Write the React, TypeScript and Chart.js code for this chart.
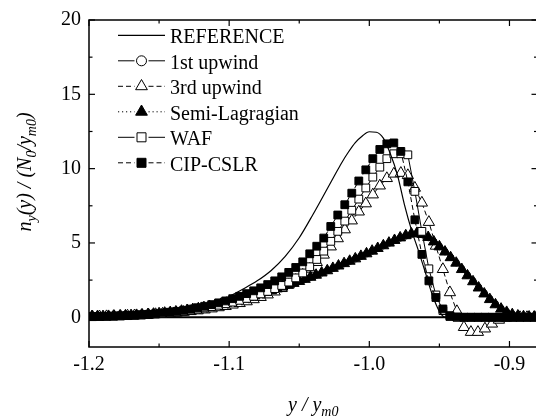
import React, { useEffect, useRef } from 'react';
import { Chart, registerables } from 'chart.js';

Chart.register(...registerables);

// ---------- data ----------
// grid of the square / open-triangle series
const X = [
  -1.1975, -1.1925, -1.1875, -1.1825, -1.1775, -1.1725, -1.1675, -1.1625, -1.1575, -1.1525,
  -1.1475, -1.1425, -1.1375, -1.1325, -1.1275, -1.1225, -1.1175, -1.1125, -1.1075, -1.1025,
  -1.0975, -1.0925, -1.0875, -1.0825, -1.0775, -1.0725, -1.0675, -1.0625, -1.0575, -1.0525,
  -1.0475, -1.0425, -1.0375, -1.0325, -1.0275, -1.0225, -1.0175, -1.0125, -1.0075, -1.0025,
  -0.9975, -0.9925, -0.9875, -0.9825, -0.9775, -0.9725, -0.9675, -0.9625, -0.9575, -0.9525,
  -0.9475, -0.9425, -0.9375, -0.9325, -0.9275, -0.9225, -0.9175, -0.9125, -0.9075, -0.9025,
  -0.8975, -0.8925, -0.8875, -0.8825,
];

// denser grid of the diffusive schemes (filled triangles / circles)
const X_FINE = [
  -1.198, -1.194, -1.190, -1.186, -1.182, -1.178, -1.174, -1.170, -1.166, -1.162,
  -1.158, -1.154, -1.150, -1.146, -1.142, -1.138, -1.134, -1.130, -1.126, -1.122,
  -1.118, -1.114, -1.110, -1.106, -1.102, -1.098, -1.094, -1.090, -1.086, -1.082,
  -1.078, -1.074, -1.070, -1.066, -1.062, -1.058, -1.054, -1.050, -1.046, -1.042,
  -1.038, -1.034, -1.030, -1.026, -1.022, -1.018, -1.014, -1.010, -1.006, -1.002,
  -0.998, -0.994, -0.990, -0.986, -0.982, -0.978, -0.974, -0.970, -0.966, -0.962,
  -0.958, -0.954, -0.950, -0.946, -0.942, -0.938, -0.934, -0.930, -0.926, -0.922,
  -0.918, -0.914, -0.910, -0.906, -0.902, -0.898, -0.894, -0.890, -0.886, -0.882,
];

const REF_X = [
  -1.2, -1.19, -1.18, -1.17, -1.16, -1.15, -1.14, -1.13, -1.12, -1.11, -1.1, -1.09, -1.08,
  -1.07, -1.06, -1.05, -1.04, -1.03, -1.025, -1.02, -1.015, -1.01, -1.005, -1.0, -0.995, -0.99,
  -0.985, -0.98, -0.975, -0.97, -0.965, -0.96, -0.955, -0.95, -0.946, -0.88,
];
const REF_Y = [
  0.03, 0.05, 0.08, 0.12, 0.18, 0.26, 0.37, 0.52, 0.72, 1.0, 1.4, 1.9, 2.45,
  3.15, 4.1, 5.35, 6.95, 8.65, 9.5, 10.35, 11.1, 11.75, 12.2, 12.48, 12.45, 12.05,
  11.0, 9.6, 7.6, 5.9, 4.5, 3.0, 1.5, 0.4, 0.0, 0.0,
];

const ZERO_X = [-1.2, -0.88];
const ZERO_Y = [0, 0];

const UPWIND1 = [
  0.05, 0.05, 0.06, 0.07, 0.08, 0.09, 0.10, 0.12, 0.14, 0.16,
  0.18, 0.21, 0.24, 0.28, 0.32, 0.36, 0.41, 0.46, 0.52, 0.58,
  0.65, 0.72, 0.79, 0.87, 0.95, 1.04, 1.13, 1.23, 1.33, 1.44,
  1.55, 1.67, 1.79, 1.91, 2.03, 2.15, 2.28, 2.41, 2.55, 2.69,
  2.83, 2.98, 3.13, 3.29, 3.45, 3.61, 3.77, 3.93, 4.10, 4.27,
  4.45, 4.63, 4.81, 4.99, 5.16, 5.33, 5.47, 5.58, 5.62, 5.55,
  5.36, 5.07, 4.75, 4.41, 4.04, 3.67, 3.25, 2.83, 2.43, 2.02,
  1.62, 1.24, 0.89, 0.59, 0.36, 0.20, 0.11, 0.06, 0.03, 0.02,
];

const SEMI_LAG = [
  0.05, 0.055, 0.06, 0.07, 0.08, 0.09, 0.11, 0.125, 0.14, 0.16,
  0.19, 0.22, 0.25, 0.29, 0.33, 0.37, 0.42, 0.47, 0.53, 0.59,
  0.66, 0.73, 0.80, 0.88, 0.96, 1.05, 1.14, 1.24, 1.34, 1.45,
  1.56, 1.68, 1.80, 1.92, 2.04, 2.16, 2.29, 2.42, 2.56, 2.70,
  2.84, 2.99, 3.14, 3.30, 3.46, 3.62, 3.78, 3.94, 4.11, 4.28,
  4.46, 4.64, 4.82, 5.00, 5.18, 5.35, 5.50, 5.62, 5.66, 5.58,
  5.38, 5.08, 4.75, 4.40, 4.02, 3.65, 3.22, 2.80, 2.40, 1.98,
  1.58, 1.20, 0.85, 0.56, 0.34, 0.19, 0.10, 0.05, 0.03, 0.02,
];

const UPWIND3 = [
  0.04, 0.05, 0.06, 0.07, 0.08, 0.10, 0.12, 0.14, 0.17, 0.20,
  0.23, 0.26, 0.30, 0.35, 0.40, 0.45, 0.51, 0.58, 0.66, 0.74,
  0.84, 0.94, 1.06, 1.20, 1.35, 1.52, 1.72, 1.95, 2.20, 2.50,
  2.85, 3.25, 3.70, 4.20, 4.75, 5.30, 5.90, 6.50, 7.10, 7.65,
  8.25, 8.85, 9.35, 9.65, 9.70, 9.55, 8.70, 7.70, 6.40, 4.80,
  3.23, 1.67, 0.40, -0.67, -1.00, -1.00, -0.77, -0.44, -0.18, -0.05,
  0, 0, 0, 0,
];

const WAF = [
  0.04, 0.05, 0.06, 0.07, 0.09, 0.11, 0.13, 0.15, 0.18, 0.22,
  0.26, 0.30, 0.35, 0.41, 0.48, 0.55, 0.63, 0.72, 0.81, 0.91,
  1.02, 1.14, 1.27, 1.41, 1.57, 1.74, 1.93, 2.14, 2.37, 2.65,
  2.98, 3.40, 3.89, 4.45, 5.11, 5.78, 6.47, 7.20, 7.95, 8.70,
  9.43, 10.10, 10.67, 11.00, 11.00, 10.93, 8.47, 5.78, 3.26, 1.50,
  0.45, 0.05, 0, 0, 0, 0, 0, 0, 0, 0,
  0, 0, 0, 0,
];

const CIP_CSLR = [
  0.05, 0.06, 0.07, 0.08, 0.10, 0.12, 0.14, 0.17, 0.20, 0.24,
  0.29, 0.34, 0.40, 0.47, 0.55, 0.64, 0.74, 0.85, 0.97, 1.10,
  1.25, 1.41, 1.59, 1.78, 1.98, 2.20, 2.45, 2.72, 3.02, 3.35,
  3.73, 4.27, 4.78, 5.33, 6.11, 6.88, 7.57, 8.35, 9.17, 9.92,
  10.67, 11.29, 11.67, 11.73, 11.16, 9.11, 6.56, 4.23, 2.45, 1.33,
  0.56, 0.11, 0.02, 0, 0, 0, 0, 0, 0, 0,
  0, 0, 0, 0,
];

const X_TICKS = [-1.2, -1.1, -1.0, -0.9];
const X_MINOR = [-1.15, -1.05, -0.95];
const Y_TICKS = [0, 5, 10, 15, 20];
const Y_MINOR = [2.5, 7.5, 12.5, 17.5];

const LEGEND_LABELS = ['REFERENCE', '1st upwind', '3rd upwind', 'Semi-Lagragian', 'WAF', 'CIP-CSLR'];

// ---------- styles ----------
const SERIF = '"Liberation Serif", "Times New Roman", serif';
const DASH = [5, 3];
const DOT = [1.2, 2.8];

type MarkStyle = { shape: string; filled: boolean; r: number; dash: number[] };
const STYLES: MarkStyle[] = [
  { shape: 'none', filled: false, r: 0, dash: [] },
  { shape: 'circle', filled: false, r: 3.2, dash: [] },
  { shape: 'triangle', filled: false, r: 6.5, dash: DASH },
  { shape: 'triangle', filled: true, r: 6.3, dash: DOT },
  { shape: 'rect', filled: false, r: 5.5, dash: [] },
  { shape: 'rect', filled: true, r: 5.5, dash: DASH },
];

const toPts = (xs: number[], ys: number[]) => xs.map((x, i) => ({ x, y: ys[i] }));

function drawMark(ctx: CanvasRenderingContext2D, shape: string, filled: boolean, x: number, y: number, r: number) {
  ctx.beginPath();
  if (shape === 'circle') {
    ctx.arc(x, y, r, 0, Math.PI * 2);
  } else if (shape === 'triangle') {
    const w = r * Math.sqrt(3) / 2;
    ctx.moveTo(x, y - r);
    ctx.lineTo(x + w, y + r / 2);
    ctx.lineTo(x - w, y + r / 2);
    ctx.closePath();
  } else if (shape === 'rect') {
    ctx.rect(x - r, y - r, 2 * r, 2 * r);
  }
  ctx.fillStyle = filled ? '#000' : '#fff';
  ctx.fill();
  ctx.setLineDash([]);
  ctx.lineWidth = 1;
  ctx.strokeStyle = '#000';
  ctx.stroke();
}

type Part = { t: string; sub?: boolean };
const MAIN_FONT = `italic 20px ${SERIF}`;
const SUB_FONT = `italic 14px ${SERIF}`;

function richWidth(ctx: CanvasRenderingContext2D, parts: Part[]) {
  let w = 0;
  for (const p of parts) {
    ctx.font = p.sub ? SUB_FONT : MAIN_FONT;
    w += ctx.measureText(p.t).width;
  }
  return w;
}
function drawRich(ctx: CanvasRenderingContext2D, parts: Part[], x: number, y: number) {
  let cx = x;
  for (const p of parts) {
    ctx.font = p.sub ? SUB_FONT : MAIN_FONT;
    ctx.fillText(p.t, cx, y + (p.sub ? 5 : 0));
    cx += ctx.measureText(p.t).width;
  }
}

const X_TITLE: Part[] = [{ t: 'y / y' }, { t: 'm0', sub: true }];
const Y_TITLE: Part[] = [
  { t: 'n' }, { t: 'y', sub: true }, { t: '(y) / (N' }, { t: '0', sub: true },
  { t: '/y' }, { t: 'm0', sub: true }, { t: ')' },
];

const decorPlugin = {
  id: 'decor',
  afterDraw(chart: any) {
    const ctx: CanvasRenderingContext2D = chart.ctx;
    const { left, right, top, bottom } = chart.chartArea;
    const xs = chart.scales.x;
    const ys = chart.scales.y;
    ctx.save();
    ctx.setLineDash([]);
    ctx.strokeStyle = '#000';
    ctx.lineWidth = 1.5;
    ctx.strokeRect(left, top, right - left, bottom - top);
    ctx.lineWidth = 1.2;
    const seg = (a: number, b: number, c: number, d: number) => {
      ctx.beginPath(); ctx.moveTo(a, b); ctx.lineTo(c, d); ctx.stroke();
    };
    X_TICKS.forEach((v) => { const p = xs.getPixelForValue(v); seg(p, bottom, p, bottom - 6); seg(p, top, p, top + 6); });
    X_MINOR.forEach((v) => { const p = xs.getPixelForValue(v); seg(p, bottom, p, bottom - 3.5); seg(p, top, p, top + 3.5); });
    Y_TICKS.forEach((v) => { const p = ys.getPixelForValue(v); seg(left, p, left + 6, p); seg(right, p, right - 6, p); });
    Y_MINOR.forEach((v) => { const p = ys.getPixelForValue(v); seg(left, p, left + 3.5, p); seg(right, p, right - 3.5, p); });

    // legend
    const x1 = 118, x2 = 165, xm = 141.5, tx = 170;
    LEGEND_LABELS.forEach((label, i) => {
      const base = 43.3 + 25.5 * i;
      const ly = base - 8;
      const st = STYLES[i];
      ctx.strokeStyle = '#000';
      ctx.lineWidth = i === 0 ? 1.3 : 1;
      ctx.setLineDash(st.dash);
      if (st.shape === 'none') {
        seg(x1, ly, x2, ly);
      } else {
        seg(x1, ly, xm - 7, ly);
        seg(xm + 7, ly, x2, ly);
        const lr = st.shape === 'rect' ? 4.5 : st.shape === 'circle' ? 5 : 6.8;
        drawMark(ctx, st.shape, st.filled, xm, ly, lr);
      }
      ctx.setLineDash([]);
      ctx.fillStyle = '#000';
      ctx.font = `20px ${SERIF}`;
      ctx.textAlign = 'left';
      ctx.textBaseline = 'alphabetic';
      ctx.fillText(label, tx, base);
    });

    // axis titles
    ctx.fillStyle = '#000';
    ctx.textAlign = 'left';
    ctx.textBaseline = 'alphabetic';
    const wx = richWidth(ctx, X_TITLE);
    drawRich(ctx, X_TITLE, (left + right) / 2 - wx / 2, 411);
    const wy = richWidth(ctx, Y_TITLE);
    ctx.translate(31, 172);
    ctx.rotate(-Math.PI / 2);
    drawRich(ctx, Y_TITLE, -wy / 2, 0);
    ctx.restore();
  },
};

export default function App() {
  const ref = useRef<HTMLCanvasElement | null>(null);

  useEffect(() => {
    if (!ref.current) return;
    const mk = (i: number, xs: number[], data: number[], order: number) => {
      const st = STYLES[i];
      return {
        label: LEGEND_LABELS[i],
        data: toPts(xs, data),
        borderColor: '#000',
        borderWidth: 1,
        borderDash: st.dash,
        pointStyle: st.shape,
        pointRadius: st.r,
        pointBackgroundColor: st.filled ? '#000' : '#fff',
        pointBorderColor: '#000',
        pointBorderWidth: 1,
        tension: 0,
        order,
      };
    };
    const chart = new Chart(ref.current, {
      type: 'line',
      data: {
        datasets: [
          {
            label: LEGEND_LABELS[0],
            data: toPts(REF_X, REF_Y),
            borderColor: '#000',
            borderWidth: 1.2,
            pointRadius: 0,
            cubicInterpolationMode: 'monotone',
            order: 0,
          } as any,
          {
            label: 'zero',
            data: toPts(ZERO_X, ZERO_Y),
            borderColor: '#000',
            borderWidth: 2,
            pointRadius: 0,
            order: 9,
          },
          mk(1, X_FINE, UPWIND1, 6),
          mk(2, X, UPWIND3, 5),
          mk(3, X_FINE, SEMI_LAG, 4),
          mk(4, X, WAF, 3),
          mk(5, X, CIP_CSLR, 2),
        ],
      },
      options: {
        animation: false,
        responsive: false,
        events: [],
        layout: { padding: { left: 0, top: 17, right: 4, bottom: 0 } },
        plugins: { legend: { display: false }, tooltip: { enabled: false } },
        scales: {
          x: {
            type: 'linear',
            min: -1.2,
            max: -0.88,
            grid: { display: false, drawTicks: false },
            border: { display: false },
            afterBuildTicks: (s: any) => { s.ticks = X_TICKS.map((v) => ({ value: v })); },
            afterFit: (s: any) => { s.height = 72; },
            ticks: {
              color: '#000',
              font: { family: SERIF, size: 20 },
              padding: 6,
              maxRotation: 0,
              autoSkip: false,
              callback: (v: any) => Number(v).toFixed(1),
            },
          },
          y: {
            type: 'linear',
            min: -2,
            max: 20,
            grid: { display: false, drawTicks: false },
            border: { display: false },
            afterBuildTicks: (s: any) => { s.ticks = Y_TICKS.map((v) => ({ value: v })); },
            afterFit: (s: any) => { s.width = 89; },
            ticks: {
              color: '#000',
              font: { family: SERIF, size: 20 },
              padding: 8,
              autoSkip: false,
              callback: (v: any) => String(v),
            },
          },
        },
      } as any,
      plugins: [decorPlugin],
    });
    return () => chart.destroy();
  }, []);

  return (
    <div style={{ position: 'fixed', left: 0, top: 0, width: 536, height: 419, overflow: 'hidden', background: '#fff' }}>
      <canvas ref={ref} width={545} height={419} style={{ display: 'block', width: 545, height: 419 }} />
    </div>
  );
}
